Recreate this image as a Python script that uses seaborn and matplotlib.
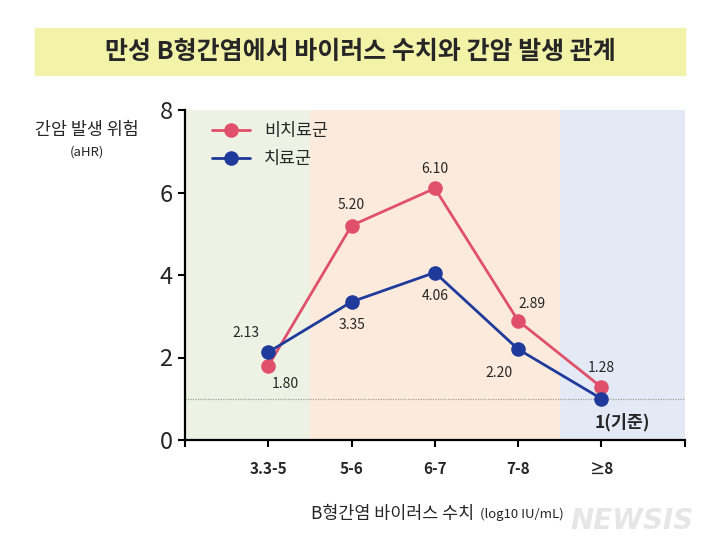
import matplotlib.pyplot as plt
import seaborn as sns
import pandas as pd

# 데이터
categories = ['3.3-5', '5-6', '6-7', '7-8', '≥8']
untreated = [1.80, 5.20, 6.10, 2.89, 1.28]   # 비치료군
treated = [2.13, 3.35, 4.06, 2.20, 1.00]     # 치료군
untreated_labels = ['1.80', '5.20', '6.10', '2.89', '1.28']
treated_labels = ['2.13', '3.35', '4.06', '2.20', '1(기준)']

sns.set_style('white')
plt.rcParams['font.family'] = ['Noto Sans CJK KR', 'DejaVu Sans']

pos = list(range(len(categories)))
df = pd.DataFrame({
    'pos': pos * 2,
    'aHR': untreated + treated,
    'group': ['비치료군'] * len(pos) + ['치료군'] * len(pos),
})

red = '#E0506A'
blue = '#1F3A9A'

fig = plt.figure(figsize=(7.2, 5.5), dpi=100)
ax = fig.add_axes([0.257, 0.2, 0.694, 0.6])

# 배경 구간
ax.axvspan(-1, 0.5, color='#EDF2E4', zorder=0, lw=0)
ax.axvspan(0.5, 3.5, color='#FCEBDD', zorder=0, lw=0)
ax.axvspan(3.5, 5, color='#E3EAF5', zorder=0, lw=0)
ax.axhline(1, color='#A0A0A0', lw=0.9, ls=(0, (1, 1)), zorder=1)

sns.lineplot(data=df, x='pos', y='aHR', hue='group', palette=[red, blue],
             marker='o', markersize=10.5, markeredgewidth=0, linewidth=2,
             ax=ax, zorder=3)

# 값 라벨
u_off = [(12, -13), (0, 15), (0, 14), (10, 12), (0, 14)]
t_off = [(-16, 14), (0, -17), (0, -17), (-14, -17), (15, -17)]
for i in pos:
    ax.annotate(untreated_labels[i], (i, untreated[i]), xytext=u_off[i],
                textcoords='offset points', ha='center', va='center', fontsize=10)
    fs = 12.5 if i == 4 else 10
    fw = 'bold' if i == 4 else 'normal'
    ax.annotate(treated_labels[i], (i, treated[i]), xytext=t_off[i],
                textcoords='offset points', ha='center', va='center',
                fontsize=fs, fontweight=fw)

ax.set_xlim(-1, 5)
ax.set_ylim(0, 8)
ax.set_xticks(pos + [-1, 5])
ax.set_xticklabels(categories + ['', ''], fontsize=11, fontweight='bold')
ax.set_yticks([0, 2, 4, 6, 8])
ax.set_yticklabels(['0', '2', '4', '6', '8'], fontsize=17)
ax.tick_params(axis='x', bottom=True, length=5, width=1.5, pad=10, color='black')
ax.tick_params(axis='y', left=True, length=5, width=1.5, pad=4, color='black')
for s in ['top', 'right']:
    ax.spines[s].set_visible(False)
for s in ['left', 'bottom']:
    ax.spines[s].set_visible(True)
    ax.spines[s].set_linewidth(1.6)
    ax.spines[s].set_color('black')
    ax.spines[s].set_zorder(5)
ax.set_xlabel('')
ax.set_ylabel('')

leg = ax.legend(loc='upper left', bbox_to_anchor=(0.03, 1.0), frameon=False,
                fontsize=12.5, handlelength=2.2, labelspacing=0.55,
                borderaxespad=0.3, handletextpad=0.8)
for line in leg.get_lines():
    line.set_markersize(10.5)

# 축 제목
fig.text(0.121, 0.763, '간암 발생 위험', ha='center', va='center', fontsize=12.5)
fig.text(0.121, 0.724, '(aHR)', ha='center', va='center', fontsize=9.5)
fig.text(0.658, 0.066, 'B형간염 바이러스 수치', ha='right', va='center', fontsize=12.5)
fig.text(0.666, 0.064, '(log10 IU/mL)', ha='left', va='center', fontsize=9.5)

# 제목 배너
fig.patches.append(plt.Rectangle((0.049, 0.864), 0.902, 0.0855, transform=fig.transFigure,
                                 color='#F2F2A8', zorder=0))
fig.text(0.5, 0.906, '만성 B형간염에서 바이러스 수치와 간암 발생 관계', ha='center',
         va='center', fontsize=18, fontweight='bold')

fig.text(0.878, 0.053, 'NEWSIS', ha='center', va='center', fontsize=20,
         fontweight='bold', style='italic', color='#E6E6E6', family='DejaVu Sans')

fig.savefig('out.png', dpi=100)
